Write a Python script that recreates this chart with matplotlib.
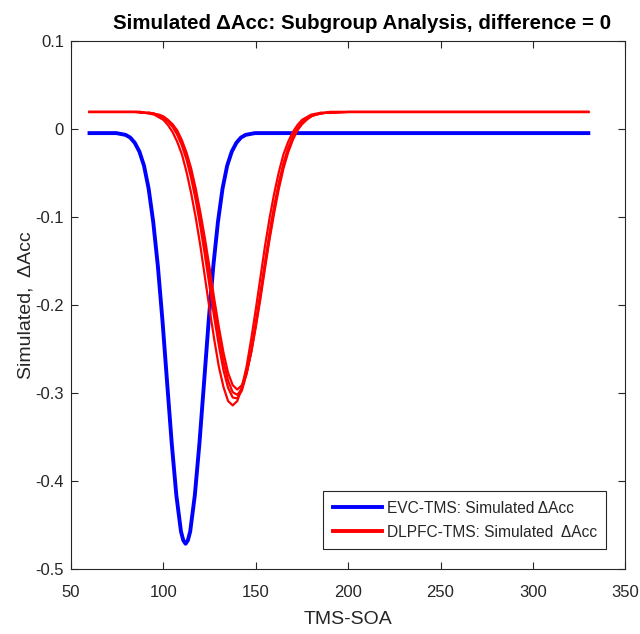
import matplotlib
matplotlib.use("Agg")
import matplotlib.pyplot as plt
from matplotlib.lines import Line2D

plt.rcParams['font.family'] = ['Liberation Sans', 'DejaVu Sans']

# EVC-TMS curve: TMS-SOA sample points and simulated dAcc
evc_soa = [60, 70, 74.5, 77, 79.5, 82, 84.5, 87, 89.5, 92, 94.5, 97, 99.5, 102,
           104.5, 107, 109.5, 110.75, 112, 113.25, 114.5, 117, 119.5, 122, 124.5,
           127, 129.5, 132, 134.5, 137, 139.5, 142, 144.5, 147, 149.5, 330]
evc = [-0.005, -0.005, -0.005, -0.006, -0.007, -0.010, -0.016, -0.026, -0.042,
       -0.068, -0.106, -0.156, -0.218, -0.288, -0.357, -0.416, -0.457, -0.467,
       -0.471, -0.467, -0.457, -0.416, -0.357, -0.288, -0.218, -0.156, -0.106,
       -0.068, -0.042, -0.026, -0.016, -0.010, -0.007, -0.006, -0.005, -0.005]

# DLPFC-TMS curves (several simulated runs) on a shared SOA grid
dl_soa = [60, 70, 80, 85, 87.5, 90, 92.5, 95, 97.5, 100, 102.5, 105, 107.5, 110,
          112.5, 115, 117.5, 120, 122.5, 125, 127.5, 130, 132.5, 135, 137.5, 140,
          142.5, 145, 147.5, 150, 152.5, 155, 157.5, 160, 162.5, 165, 167.5, 170,
          172.5, 175, 177.5, 180, 182.5, 185, 187.5, 190, 200, 330]

dlpfc_1 = [0.019, 0.019, 0.019, 0.019, 0.019, 0.018, 0.018, 0.017, 0.016, 0.014,
           0.010, 0.005, -0.002, -0.013, -0.027, -0.045, -0.068, -0.095, -0.125,
           -0.158, -0.193, -0.225, -0.254, -0.277, -0.291, -0.296, -0.291, -0.277,
           -0.254, -0.225, -0.193, -0.158, -0.125, -0.095, -0.068, -0.045, -0.027,
           -0.013, -0.002, 0.005, 0.010, 0.014, 0.016, 0.017, 0.018, 0.018, 0.019,
           0.019]

dlpfc_2 = [0.019, 0.019, 0.019, 0.019, 0.019, 0.018, 0.018, 0.017, 0.015, 0.013,
           0.009, 0.004, -0.005, -0.016, -0.031, -0.050, -0.074, -0.103, -0.135,
           -0.169, -0.203, -0.236, -0.264, -0.286, -0.299, -0.302, -0.295, -0.278,
           -0.254, -0.223, -0.190, -0.155, -0.122, -0.091, -0.064, -0.042, -0.024,
           -0.011, -0.001, 0.006, 0.011, 0.014, 0.016, 0.017, 0.018, 0.018, 0.019,
           0.019]

dlpfc_3 = [0.019, 0.019, 0.019, 0.019, 0.019, 0.018, 0.018, 0.017, 0.015, 0.012,
           0.008, 0.002, -0.007, -0.019, -0.035, -0.056, -0.081, -0.111, -0.144,
           -0.179, -0.214, -0.246, -0.274, -0.294, -0.305, -0.306, -0.297, -0.278,
           -0.252, -0.220, -0.186, -0.151, -0.117, -0.087, -0.061, -0.039, -0.022,
           -0.009, 0.000, 0.007, 0.012, 0.015, 0.016, 0.018, 0.018, 0.019, 0.019,
           0.019]

dlpfc_4 = [0.019, 0.019, 0.019, 0.019, 0.018, 0.018, 0.017, 0.016, 0.013, 0.010,
           0.004, -0.004, -0.015, -0.029, -0.049, -0.073, -0.101, -0.133, -0.169,
           -0.205, -0.239, -0.270, -0.293, -0.309, -0.314, -0.309, -0.293, -0.270,
           -0.239, -0.205, -0.169, -0.133, -0.101, -0.073, -0.049, -0.029, -0.015,
           -0.004, 0.004, 0.010, 0.013, 0.016, 0.017, 0.018, 0.018, 0.019, 0.019,
           0.019]

dlpfc_runs = [dlpfc_1, dlpfc_2, dlpfc_3, dlpfc_4]

xticks = [50, 100, 150, 200, 250, 300, 350]
yticks = [-0.5, -0.4, -0.3, -0.2, -0.1, 0, 0.1]
ytick_labels = ['-0.5', '-0.4', '-0.3', '-0.2', '-0.1', '0', '0.1']
legend_labels = ['EVC-TMS: Simulated ΔAcc', 'DLPFC-TMS: Simulated  ΔAcc']

fig = plt.figure(figsize=(6.4, 6.34), dpi=100)
ax = fig.add_axes([0.111, 0.102, 0.866, 0.834])

ax.plot(evc_soa, evc, color='#0000ff', lw=2.8)
for run in dlpfc_runs:
    ax.plot(dl_soa, run, color='#ff0000', lw=1.6)

ax.set_xlim(50, 350)
ax.set_ylim(-0.5, 0.1)
ax.set_xticks(xticks)
ax.set_xticklabels([str(t) for t in xticks])
ax.set_yticks(yticks)
ax.set_yticklabels(ytick_labels)

axcol = '#262626'
for s in ax.spines.values():
    s.set_color(axcol)
    s.set_linewidth(0.8)
ax.tick_params(direction='in', length=5, width=0.8, colors=axcol,
               labelsize=12, top=True, right=True)
ax.tick_params(axis='x', pad=11)
ax.tick_params(axis='y', pad=5)

ax.set_title('Simulated ΔAcc: Subgroup Analysis, difference = 0',
             fontsize=14.8, fontweight='bold', color='black', pad=8, x=0.525)
ax.set_xlabel('TMS-SOA', fontsize=14, color=axcol, labelpad=8)
ax.set_ylabel('Simulated,  ΔAcc', fontsize=14, color=axcol, labelpad=1)

handles = [Line2D([0], [0], color='#0000ff', lw=2.8),
           Line2D([0], [0], color='#ff0000', lw=2.8)]
leg = ax.legend(handles, legend_labels,
                loc='lower right', bbox_to_anchor=(0.966, 0.038), fontsize=11.2,
                frameon=True, fancybox=False, edgecolor=axcol, framealpha=1,
                handlelength=3.2, borderpad=0.6, labelspacing=0.6,
                handletextpad=0.3, borderaxespad=0)
leg.get_frame().set_linewidth(0.8)
for t in leg.get_texts():
    t.set_color(axcol)

fig.savefig('out.png', dpi=100)
